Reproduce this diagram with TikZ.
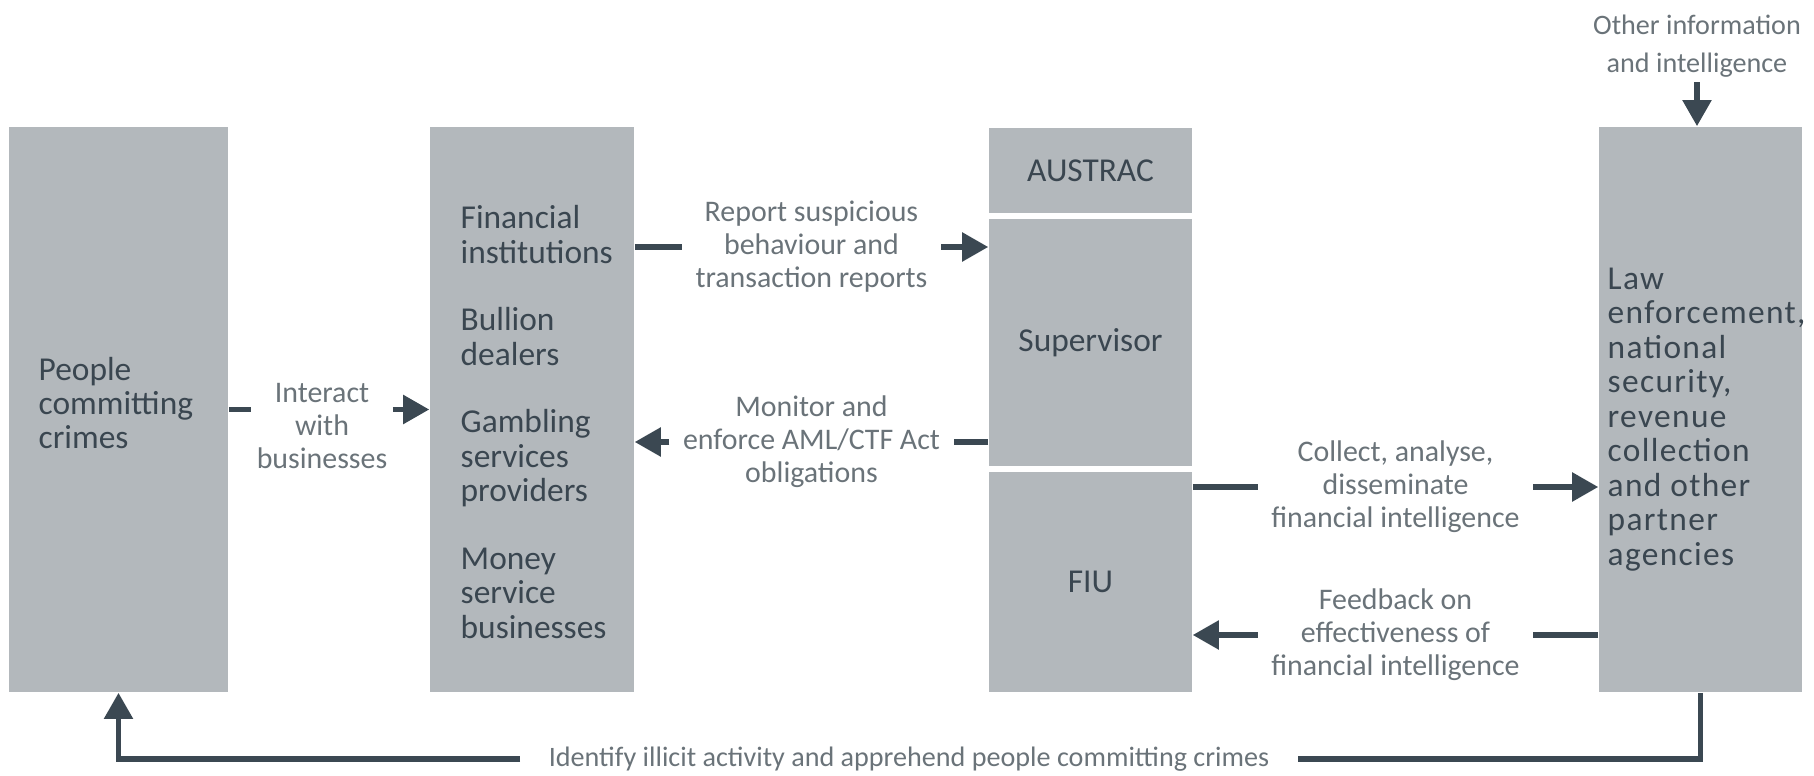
\documentclass[tikz,border=0pt]{standalone}
\usepackage{fontspec}
\setmainfont{Carlito}
\newfontfamily\lawfont[LetterSpace=4]{Carlito}
\usetikzlibrary{arrows.meta, positioning}
\definecolor{boxgrey}{HTML}{B3B8BC}
\definecolor{inkdark}{HTML}{3A4650}
\definecolor{inklight}{HTML}{6A7379}
\definecolor{arrowdark}{HTML}{3B4852}

\begin{document}
\begin{tikzpicture}[x=0.01cm, y=-0.01cm,
    box_node/.style={rectangle, fill=boxgrey, inner sep=0pt, minimum width=2.04cm, minimum height=5.65cm, align=left, text=inkdark, font=\fontsize{9.5}{9.8}\selectfont},
    box_txt/.style={anchor=west, inner sep=0pt, align=left, text=inkdark, font=\fontsize{9.5}{9.8}\selectfont},
    lbl_node/.style={align=center, text=inklight, inner xsep=0.13cm, inner ysep=0pt, font=\fontsize{8.5}{9.4}\selectfont},
    conn/.style={draw=arrowdark, line width=1.5pt},
    arr/.style={conn, -{Triangle[length=0.26cm, width=0.28cm]}}]
    \useasboundingbox (0,0) rectangle (1814,776);

    % boxes
    \node[box_node, minimum width=2.19cm] (people) at (118.5,409.5) {};
    \node[box_node] (biz) at (532,409.5) {};
    \node[box_node, minimum width=2.03cm, minimum height=0.85cm] (austrac) at (1090.5,170.5) {AUSTRAC};
    \node[box_node, minimum width=2.03cm, minimum height=2.47cm] (sup) at (1090.5,342.5) {Supervisor};
    \node[box_node, minimum width=2.03cm, minimum height=2.20cm] (fiu) at (1090.5,582) {FIU};
    \node[box_node, minimum width=2.03cm] (law) at (1700.5,409.5) {};

    % box texts
    \node[box_txt] (people_txt) at (38,403) {People\\committing\\crimes};
    \node[box_txt] (biz_txt) at (460,422) {Financial\\institutions\\[0.33cm]Bullion\\dealers\\[0.33cm]Gambling\\services\\providers\\[0.33cm]Money\\service\\businesses};
    \node[box_txt, font=\lawfont\fontsize{9.5}{9.8}\selectfont] (law_txt) at (1607,419.5) {Law\\enforcement,\\national\\security,\\revenue\\collection\\and other\\partner\\agencies};

    % labels
    \node[lbl_node, inner xsep=0.05cm] (intr) at (322,426) {Interact\\with\\businesses};
    \node[lbl_node] (rep) at (811.5,247) {Report suspicious\\behaviour and\\transaction reports};
    \node[lbl_node] (mon) at (811.5,442) {Monitor and\\enforce AML/CTF Act\\obligations};
    \node[lbl_node] (col) at (1395.5,487) {Collect, analyse,\\disseminate\\financial intelligence};
    \node[lbl_node] (fdb) at (1395.5,635) {Feedback on\\effectiveness of\\financial intelligence};
    \node[lbl_node, inner ysep=0.04cm, font=\fontsize{8}{11}\selectfont] (other) at (1697,46) {Other information\\and intelligence};
    \node[lbl_node, inner xsep=0.28cm, font=\fontsize{8}{9.4}\selectfont] (idt) at (909,759) {Identify illicit activity and apprehend people committing crimes};

    % connectors
    \draw[conn] (people.east) -- (people.east -| intr.west);
    \draw[arr] (people.east -| intr.east) -- (biz.west);
    \draw[conn] (biz.east |- rep) -- (rep.west);
    \draw[arr] (rep.east) -- (sup.west |- rep);
    \draw[conn] (sup.west |- mon) -- (mon.east);
    \draw[arr] (mon.west) -- (biz.east |- mon);
    \draw[conn] (fiu.east |- col) -- (col.west);
    \draw[arr] (col.east) -- (law.west |- col);
    \draw[conn] (law.west |- fdb) -- (fdb.east);
    \draw[arr] (fdb.west) -- (fiu.east |- fdb);
    \draw[arr] (other.south) -- (other.south |- law.north);
    \draw[conn] (law.south) |- (idt.east);
    \draw[arr] (idt.west) -| (people.south);
\end{tikzpicture}
\end{document}
